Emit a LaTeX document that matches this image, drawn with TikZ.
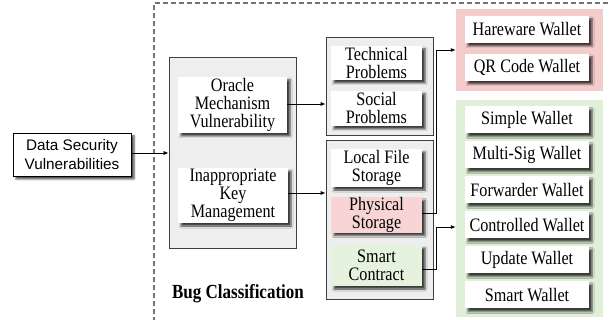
\documentclass[tikz,border=0pt]{standalone}
\usepackage{fontspec}
\setmainfont{Liberation Serif}[FakeStretch=0.85]
\newfontfamily\arialf{Liberation Sans}
\usetikzlibrary{shadows.blur,arrows.meta}
\definecolor{grayfill}{HTML}{EEEEEE}
\definecolor{pinkout}{HTML}{F4CCCC}
\definecolor{pinkin}{HTML}{F9D4D4}
\definecolor{greenout}{HTML}{DFEFD8}
\definecolor{greenin}{HTML}{E4F2DE}
\definecolor{shadowc}{HTML}{707070}
\tikzset{
  txt/.style={font=\fontsize{19}{18}\selectfont, align=center, inner sep=0pt},
  sbox/.style={txt, fill=white, blur shadow={shadow xshift=3pt, shadow yshift=-3pt, shadow blur radius=2pt, shadow opacity=75}},
  gbox/.style={draw=black!75, line width=0.6pt, fill=grayfill, inner sep=0pt},
  cbox/.style={inner sep=0pt},
  arr/.style={-{Latex[length=5pt,width=4pt]}, line width=0.9pt},
}
\begin{document}
\begin{tikzpicture}[x=1pt,y=-1pt]
\useasboundingbox (0,0) rectangle (611,320);
\draw[dash pattern=on 5pt off 3pt, line width=1.3pt, black!55] (154,330) -- (154,3) -- (620,3);
% data security
\node[sbox, draw=black, line width=0.6pt, font=\arialf\fontsize{15.3}{19.5}\selectfont, minimum width=118pt, minimum height=43pt] (data) at (72,154.5) {Data Security\\Vulnerabilities};
% gray box 1
\node[gbox, minimum width=127pt, minimum height=191pt] (g1) at (232.5,152.5) {};
\node[sbox, minimum width=109pt, minimum height=56pt] (oracle) at (232.5,105) {Oracle\\Mechanism\\Vulnerability};
\node[sbox, minimum width=110pt, minimum height=55pt] (key) at (233,195.5) {Inappropriate\\Key\\Management};
\node[font=\bfseries\fontsize{20}{20}\selectfont, inner sep=0pt] (bug) at (238,294) {Bug Classification};
% gray box 2a
\node[gbox, minimum width=107pt, minimum height=98pt] (g2) at (379.5,86) {};
\node[sbox, minimum width=91pt, minimum height=34pt] (tech) at (376.5,63) {Technical\\Problems};
\node[sbox, minimum width=91pt, minimum height=35pt] (soc) at (376.5,108.5) {Social\\Problems};
% gray box 2b
\node[gbox, minimum width=107pt, minimum height=159pt] (g3) at (379.5,219.5) {};
\node[sbox, minimum width=91pt, minimum height=38pt] (local) at (376.5,168) {Local File\\Storage};
\node[sbox, fill=pinkin, minimum width=91pt, minimum height=34pt] (phys) at (376.5,215) {Physical\\Storage};
\node[sbox, fill=greenin, minimum width=91pt, minimum height=41pt] (smart) at (376.5,265.5) {Smart\\Contract};
% pink box
\node[cbox, fill=pinkout, minimum width=147pt, minimum height=82pt] (pink) at (529.5,50) {};
\node[sbox, minimum width=124pt, minimum height=27pt] (hw) at (527,29.5) {Hareware Wallet};
\node[sbox, minimum width=124pt, minimum height=27pt] (qr) at (527,67.5) {QR Code Wallet};
% green box
\node[cbox, fill=greenout, minimum width=147pt, minimum height=217pt] (green) at (529.5,208.5) {};
\node[sbox, minimum width=124pt, minimum height=27pt] (w1) at (527,120) {Simple Wallet};
\node[sbox, minimum width=124pt, minimum height=27pt] (w2) at (527,155) {Multi-Sig Wallet};
\node[sbox, minimum width=124pt, minimum height=27pt] (w3) at (527,190) {Forwarder Wallet};
\node[sbox, minimum width=124pt, minimum height=27pt] (w4) at (527,225) {Controlled Wallet};
\node[sbox, minimum width=124pt, minimum height=27pt] (w5) at (527,260) {Update Wallet};
\node[sbox, minimum width=124pt, minimum height=27pt] (w6) at (527,295) {Smart Wallet};
% arrows
\coordinate (pa) at (436,213);
\coordinate (sa) at (436,269);
\draw[arr] (data.east |- 0,153) -- (g1.west |- 0,153);
\draw[arr] (oracle.east |- 0,104) -- (g2.west |- 0,104);
\draw[arr] (key.east |- 0,193) -- (g3.west |- 0,193);
\draw[arr] (phys.east |- pa) -- (pa) |- (pink.west |- 0,50);
\draw[arr] (smart.east |- sa) -- (sa) |- (green.west |- 0,227);
\end{tikzpicture}
\end{document}
